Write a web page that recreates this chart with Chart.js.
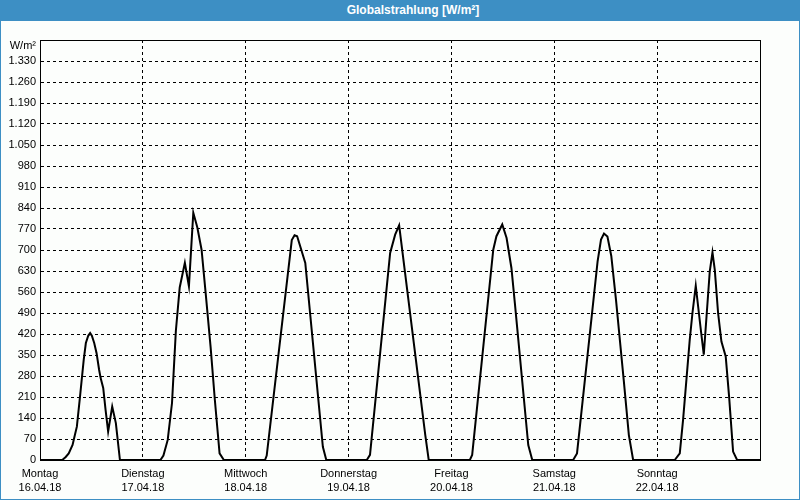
<!DOCTYPE html>
<html><head><meta charset="utf-8">
<script src="https://cdn.jsdelivr.net/npm/chart.js@4.4.1/dist/chart.umd.min.js"></script>
<style>
html,body{margin:0;padding:0;background:#fcfefc;}
#wrap{position:relative;width:800px;height:500px;background:#fcfefc;overflow:hidden;}
#bar{position:absolute;left:0;top:0;width:800px;height:21px;background:#3d8fc4;color:#fff;font:bold 12px "Liberation Sans",Arial,sans-serif;line-height:21px;text-align:center;box-sizing:border-box;padding-left:26px;z-index:2;}
#frame{position:absolute;left:0;top:0;width:800px;height:500px;box-sizing:border-box;border:1px solid #3d8fc4;pointer-events:none;z-index:3;}
canvas{position:absolute;left:0;top:0;}
</style></head>
<body>
<div id="wrap">
<div id="bar">Globalstrahlung [W/m²]</div>
<canvas id="c" width="800" height="500"></canvas>
<div id="frame"></div>
</div>
<script>
// Day labels (x axis, one per day boundary)
const dayNames = ['Montag','Dienstag','Mittwoch','Donnerstag','Freitag','Samstag','Sonntag'];
const dayDates = ['16.04.18','17.04.18','18.04.18','19.04.18','20.04.18','21.04.18','22.04.18'];
const unitLabel = 'W/m²';
const yMax = 1400, yStep = 70;

// time in hours since Monday 16.04.18 00:00
const hours = [
  0, 5.2, 6.0, 6.7, 7.6, 8.0, 8.6, 9.3, 10.2, 10.7, 11.25, 11.7, 12.1, 12.65, 13.2, 13.8, 14.15, 14.75, 15.3, 15.9, 16.85, 17.7, 18.65,
  28.1, 28.8, 29.8, 30.8, 31.7, 32.6, 33.8, 34.75, 35.77, 36.7, 37.7, 38.65, 39.8, 40.8, 41.9, 42.9,
  52.5, 52.9, 58.75, 59.4, 60.0, 61.9, 66.0, 66.8,
  76.25, 77.0, 81.7, 82.87, 83.8, 89.9, 90.7,
  100.3, 100.84, 105.76, 106.5, 107.86, 108.87, 110.0, 110.8, 113.93, 114.86,
  124.4, 125.3, 130.1, 130.9, 131.6, 132.4, 133.3, 134.4, 136.2, 137.4, 138.4,
  148.1, 149.28, 150.05, 151.61, 152.24, 153.01, 154.1, 154.88, 156.28, 156.91, 157.45, 158.22, 159.0, 160.0, 160.79, 161.72, 162.66, 168
];
// global radiation in W/m²
const radiation = [
  0, 0, 10, 22, 50, 75, 111, 206, 334, 390, 414, 423, 414, 390, 356, 300, 273, 240, 167, 95, 178, 123, 0,
  0, 15, 67, 190, 430, 575, 657, 579, 824, 776, 701, 557, 378, 200, 22, 0,
  0, 15, 733, 749, 746, 657, 44, 0,
  0, 17, 690, 751, 782, 83, 0,
  0, 17, 701, 746, 785, 740, 640, 523, 50, 0,
  0, 22, 661, 735, 755, 745, 680, 534, 267, 83, 0,
  0, 22, 134, 401, 490, 581, 445, 351, 629, 692, 634, 490, 395, 345, 211, 28, 0, 0
];

const FONT = {family: '"Liberation Sans", Arial, sans-serif', size: 11, lineHeight: 1.27};

function fmtDe(v){
  return String(v).replace(/\B(?=(\d{3})+(?!\d))/g, '.');
}

const framePlugin = {
  id: 'framePlugin',
  afterDraw(chart){
    const {ctx, chartArea: a} = chart;
    ctx.save();
    ctx.strokeStyle = '#000';
    ctx.lineWidth = 1;
    ctx.setLineDash([]);
    ctx.strokeRect(Math.round(a.left) + 0.5, Math.round(a.top) + 0.5,
                   Math.round(a.right - a.left), Math.round(a.bottom - a.top));
    ctx.fillStyle = '#000';
    ctx.font = '11px "Liberation Sans", Arial, sans-serif';
    ctx.textAlign = 'right';
    ctx.textBaseline = 'middle';
    ctx.fillText(unitLabel, a.left - 4, a.top + 6);
    ctx.restore();
  }
};

new Chart(document.getElementById('c'), {
  type: 'line',
  data: {
    datasets: [{
      data: hours.map((h, i) => ({x: h, y: radiation[i]})),
      borderColor: '#000',
      borderWidth: 2,
      pointRadius: 0,
      tension: 0,
      fill: false
    }]
  },
  options: {
    responsive: false,
    animation: false,
    devicePixelRatio: 1,
    layout: {padding: {left: 0, top: 40, right: 40, bottom: 0}},
    plugins: {legend: {display: false}, tooltip: {enabled: false}, title: {display: false}},
    scales: {
      x: {
        type: 'linear', min: 0, max: 168,
        ticks: {
          stepSize: 24, maxTicksLimit: 100, autoSkip: false, maxRotation: 0, minRotation: 0,
          padding: 7, color: '#000', font: FONT,
          callback: (v) => { const i = Math.round(v / 24); return i < dayNames.length ? [dayNames[i], dayDates[i]] : ''; }
        },
        grid: {color: '#000', lineWidth: 1, drawTicks: false},
        border: {display: true, color: '#000', width: 1, dash: [3, 3]},
        afterFit(s){ s.height = 40; }
      },
      y: {
        min: 0, max: yMax,
        ticks: {
          stepSize: yStep, maxTicksLimit: 100, padding: 4, color: '#000', font: FONT,
          callback: (v) => v >= yMax ? '' : fmtDe(v)
        },
        grid: {color: '#000', lineWidth: 1, drawTicks: false},
        border: {display: true, color: '#000', width: 1, dash: [3, 3]},
        afterFit(s){ s.width = 40; }
      }
    }
  },
  plugins: [framePlugin]
});
</script>
</body></html>
